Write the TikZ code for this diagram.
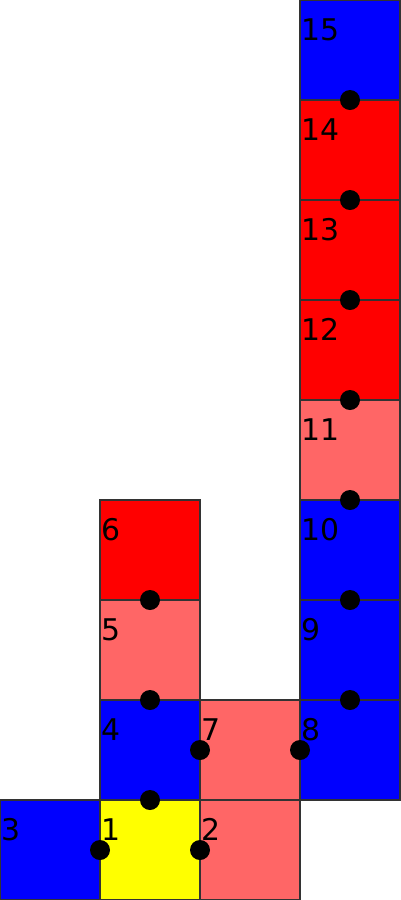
\documentclass[tikz,border=0pt]{standalone}
\usepackage{fontspec}
\setmainfont{DejaVu Sans}
\definecolor{cblue}{HTML}{0000FF}
\definecolor{cred}{HTML}{FF0000}
\definecolor{clight}{HTML}{FF6666}
\definecolor{cyel}{HTML}{FFFF00}
\definecolor{edge}{HTML}{333333}
\tikzset{
  cell/.style={draw=edge, line width=0.3pt, minimum size=1cm, inner sep=0pt, outer sep=0pt, anchor=north west},
  lbl/.style={anchor=base west, inner sep=0pt, font=\fontsize{8.5}{10}\selectfont},
  dot/.style={circle, fill=black, minimum size=0.2cm, inner sep=0pt}
}
\begin{document}
\begin{tikzpicture}
\useasboundingbox (0,0) rectangle (4,-9);
% cells: (x,y) = top-left corner
\foreach \n/\x/\y/\c in {15/3/0/cblue,14/3/1/cred,13/3/2/cred,12/3/3/cred,11/3/4/clight,10/3/5/cblue,9/3/6/cblue,8/3/7/cblue,7/2/7/clight,6/1/5/cred,5/1/6/clight,4/1/7/cblue,1/1/8/cyel,2/2/8/clight,3/0/8/cblue}{
  \node[cell, fill=\c] (c\n) at (\x,-\y) {};
  \node[lbl] (l\n) at ([xshift=0.01cm,yshift=-0.4cm]c\n.north west) {\n};
}
% dots
\node[dot] (d1) at (c15.south) {};
\node[dot] (d2) at (c14.south) {};
\node[dot] (d3) at (c13.south) {};
\node[dot] (d4) at (c12.south) {};
\node[dot] (d5) at (c11.south) {};
\node[dot] (d6) at (c10.south) {};
\node[dot] (d7) at (c9.south) {};
\node[dot] (d8) at (c8.west) {};
\node[dot] (d9) at (c7.west) {};
\node[dot] (d10) at (c6.south) {};
\node[dot] (d11) at (c5.south) {};
\node[dot] (d12) at (c4.south) {};
\node[dot] (d13) at (c1.west) {};
\node[dot] (d14) at (c2.west) {};
\end{tikzpicture}
\end{document}
